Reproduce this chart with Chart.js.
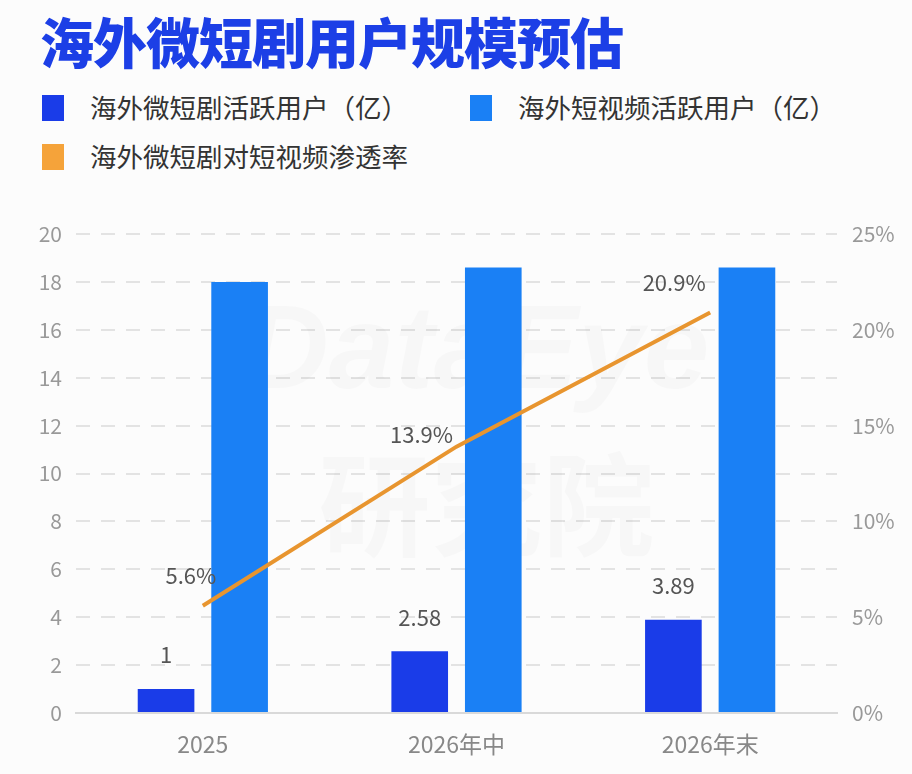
<!DOCTYPE html>
<html>
<head>
<meta charset="utf-8">
<script src="https://cdn.jsdelivr.net/npm/chart.js@4.4.0/dist/chart.umd.min.js"></script>
<style>
  html, body { margin: 0; padding: 0; background: #fcfcfc; }
  #wrap { position: relative; width: 912px; height: 774px; overflow: hidden; }
  #title {
    position: absolute; left: 40px; top: 4px;
    font-family: "Noto Sans CJK SC", sans-serif; font-weight: 900;
    font-size: 54px; color: #1c3fe6; letter-spacing: -1px; line-height: 74px;
  }
  #legend { position: absolute; left: 42px; top: 94px; width: 860px;
    font-family: "Noto Sans CJK SC", sans-serif; font-size: 26.5px; color: #333; }
  .item { position: absolute; height: 28px; line-height: 28px; white-space: nowrap; }
  .box { position: absolute; left: 0; top: 1px; width: 22px; height: 26px; }
  .txt { position: absolute; left: 48px; top: -1px; }
  canvas { position: absolute; left: 0; top: 0; }
</style>
</head>
<body>
<div id="wrap">
  <div id="title">海外微短剧用户规模预估</div>
  <div id="legend"></div>
  <canvas id="c" width="912" height="774"></canvas>
</div>
<script>
var categories = ['2025', '2026年中', '2026年末'];
var microDramaUsers = [1, 2.58, 3.89];
var shortVideoUsers = [18, 18.6, 18.6];
var penetration = [5.6, 13.9, 20.9];
var seriesNames = ['海外微短剧活跃用户（亿）', '海外短视频活跃用户（亿）', '海外微短剧对短视频渗透率'];
var seriesColors = ['#1a3ce8', '#1a80f5', '#f5a33a'];
var lineColor = '#e8952f';
var leftTicks = [0, 2, 4, 6, 8, 10, 12, 14, 16, 18, 20];
var rightTicks = [0, 5, 10, 15, 20, 25];

// legend in html
var legendPos = [[0, 0], [428, 0], [0, 49]];
var legend = document.getElementById('legend');
seriesNames.forEach(function (name, i) {
    var it = document.createElement('div');
    it.className = 'item';
    it.style.left = legendPos[i][0] + 'px';
    it.style.top = legendPos[i][1] + 'px';
    var b = document.createElement('div');
    b.className = 'box';
    b.style.background = seriesColors[i];
    var t = document.createElement('div');
    t.className = 'txt';
    t.textContent = name;
    it.appendChild(b);
    it.appendChild(t);
    legend.appendChild(it);
});

var tickFont = { family: '"Noto Sans CJK SC", sans-serif', size: 21 };
var xFont = { family: '"Noto Sans CJK SC", sans-serif', size: 23 };
var labelOffsets = [[-12, -30], [-35, -12], [-36, -30]];

var labelsPlugin = {
    id: 'labels',
    beforeDatasetsDraw: function (chart) {
        var ctx = chart.ctx;
        var a = chart.chartArea;
        ctx.save();
        ctx.fillStyle = 'rgba(0,0,0,0.02)';
        ctx.textAlign = 'center';
        ctx.textBaseline = 'middle';
        ctx.font = 'italic bold 118px "Liberation Sans", sans-serif';
        ctx.fillText('DataEye', (a.left + a.right) / 2 + 20, 355);
        ctx.font = 'bold 112px "Noto Sans CJK SC", sans-serif';
        ctx.fillText('研究院', (a.left + a.right) / 2 + 30, 505);
        ctx.restore();
    },
    afterDatasetsDraw: function (chart) {
        var ctx = chart.ctx;
        ctx.save();
        ctx.font = '22px "Noto Sans CJK SC", sans-serif';
        ctx.fillStyle = '#555';
        ctx.textAlign = 'center';
        ctx.textBaseline = 'middle';
        chart.getDatasetMeta(0).data.forEach(function (bar, i) {
            ctx.fillText(String(microDramaUsers[i]), bar.x, bar.y - 34);
        });
        chart.getDatasetMeta(2).data.forEach(function (pt, i) {
            ctx.fillText(penetration[i] + '%', pt.x + labelOffsets[i][0], pt.y + labelOffsets[i][1]);
        });
        ctx.restore();
    }
};

new Chart(document.getElementById('c'), {
    data: {
        labels: categories,
        datasets: [
            {
                type: 'bar',
                label: seriesNames[0],
                data: microDramaUsers,
                backgroundColor: seriesColors[0],
                yAxisID: 'y',
                categoryPercentage: 0.58,
                barPercentage: 0.77,
                order: 2
            },
            {
                type: 'bar',
                label: seriesNames[1],
                data: shortVideoUsers,
                backgroundColor: seriesColors[1],
                yAxisID: 'y',
                categoryPercentage: 0.58,
                barPercentage: 0.77,
                order: 2
            },
            {
                type: 'line',
                label: seriesNames[2],
                data: penetration,
                borderColor: lineColor,
                borderWidth: 4,
                pointRadius: 0,
                tension: 0,
                yAxisID: 'y1',
                order: 1
            }
        ]
    },
    options: {
        responsive: false,
        animation: false,
        layout: { padding: { top: 234, left: 0, right: 0, bottom: 0 } },
        plugins: {
            legend: { display: false },
            tooltip: { enabled: false }
        },
        scales: {
            x: {
                grid: { display: false, drawTicks: false },
                border: { display: true, color: '#d9d9d9', width: 2 },
                ticks: { color: '#888', font: xFont, padding: 17 },
                afterFit: function (s) { s.height = 61; }
            },
            y: {
                position: 'left',
                min: 0, max: 20,
                afterBuildTicks: function (s) { s.ticks = leftTicks.map(function (v) { return { value: v }; }); },
                grid: { color: '#e3e3e3', lineWidth: 2, drawTicks: false },
                border: { display: false, dash: [14, 11] },
                ticks: { color: '#999', font: tickFont, padding: 14 },
                afterFit: function (s) { s.width = 76; }
            },
            y1: {
                position: 'right',
                min: 0, max: 25,
                afterBuildTicks: function (s) { s.ticks = rightTicks.map(function (v) { return { value: v }; }); },
                grid: { display: false, drawTicks: false },
                border: { display: false },
                ticks: { color: '#999', font: tickFont, padding: 15,
                    callback: function (v) { return v + '%'; } },
                afterFit: function (s) { s.width = 75; }
            }
        }
    },
    plugins: [labelsPlugin]
});
</script>
</body>
</html>
